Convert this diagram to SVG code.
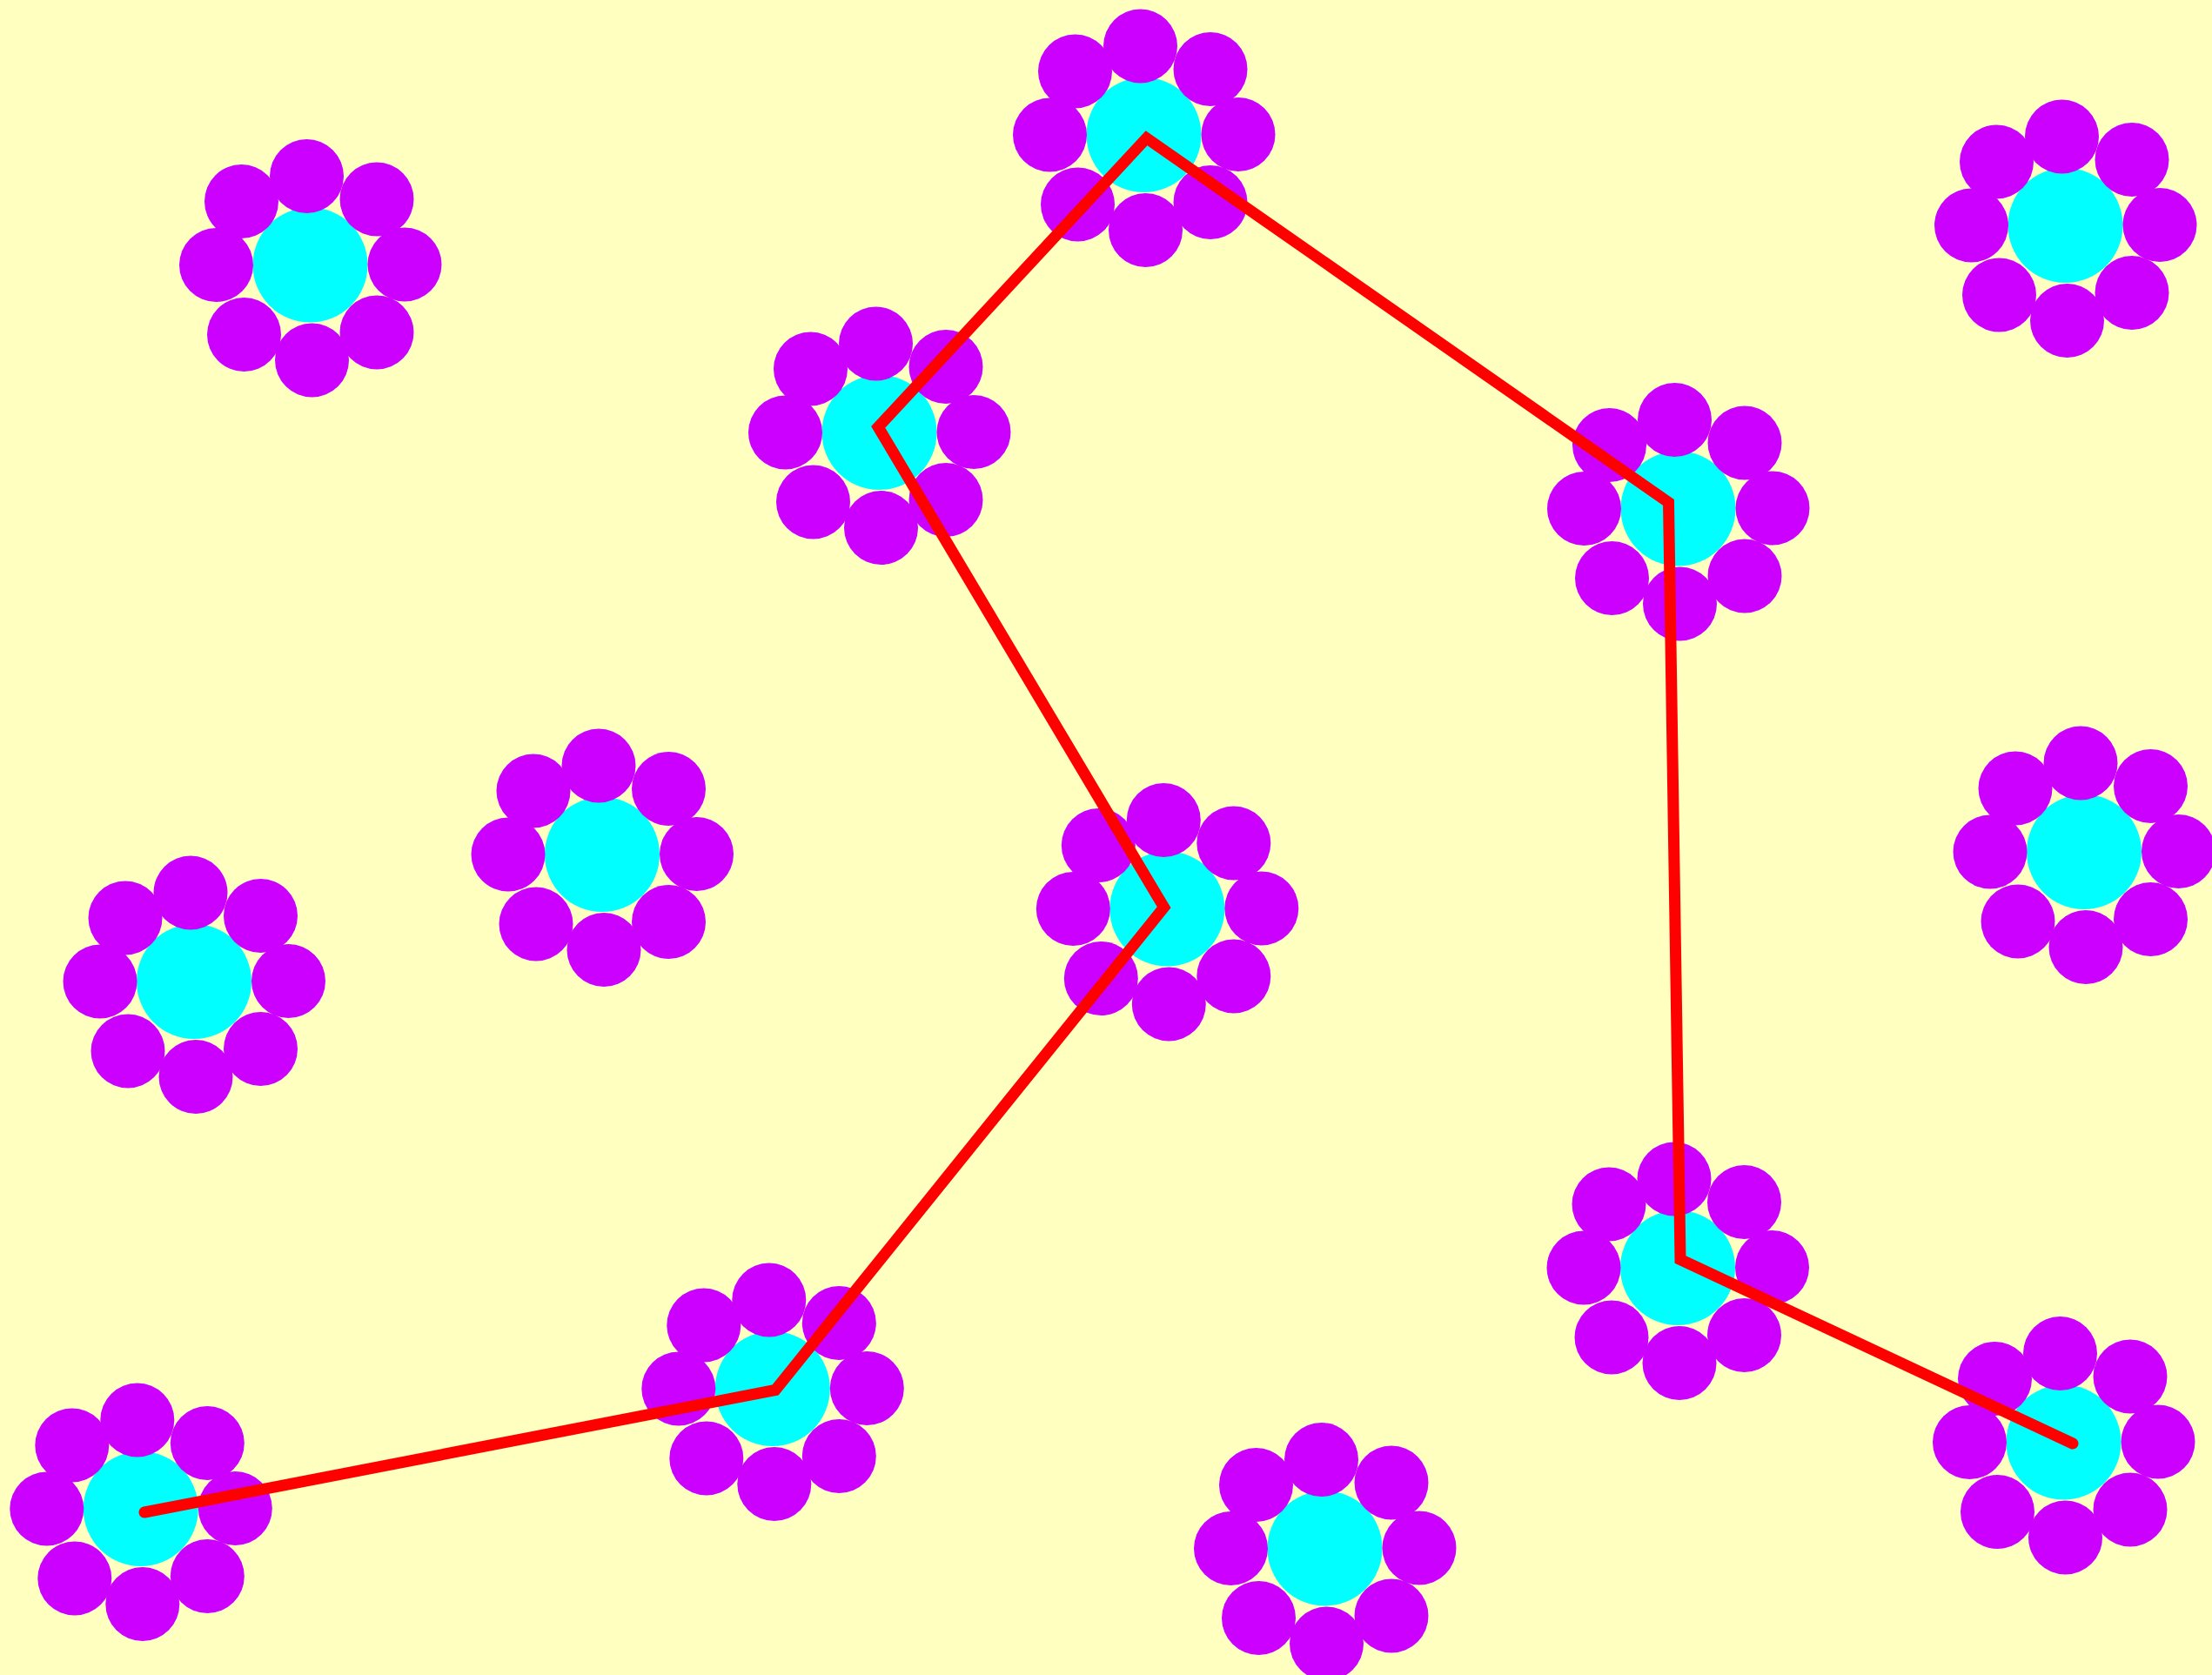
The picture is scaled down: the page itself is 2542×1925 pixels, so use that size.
<svg xmlns="http://www.w3.org/2000/svg" xmlns:xlink="http://www.w3.org/1999/xlink" width="2542" height="1925" viewBox="0 0 2542 1925">
  <style>
    .core { fill: #00FFFF; }
    .petal { fill: #CC00FF; }
    .path { fill: none; stroke: #FF0000; stroke-width: 13; stroke-linejoin: miter; stroke-linecap: round; stroke-miterlimit: 10; }
  </style>
  <defs>
    <g id="flower">
      <circle class="core" cx="0" cy="0" r="66"/>
      <circle class="petal" cx="-4" cy="-102" r="42.5"/>
      <circle class="petal" cx="76.5" cy="-75.5" r="42.5"/>
      <circle class="petal" cx="108.5" cy="-0.5" r="42.5"/>
      <circle class="petal" cx="76.5" cy="77.5" r="42.5"/>
      <circle class="petal" cx="2" cy="109.5" r="42.5"/>
      <circle class="petal" cx="-76" cy="80" r="42.5"/>
      <circle class="petal" cx="-108" cy="0" r="42.5"/>
      <circle class="petal" cx="-79" cy="-73" r="42.5"/>
    </g>
  </defs>
  <rect x="0" y="0" width="2542" height="1925" fill="#FFFFC0"/>
  <g id="nodes">
    <g id="n1"><use href="#flower" xlink:href="#flower" x="356.5" y="304.5"/></g>
    <g id="n2"><use href="#flower" xlink:href="#flower" x="1314.5" y="155"/></g>
    <g id="n3"><use href="#flower" xlink:href="#flower" x="2373.5" y="259"/></g>
    <g id="n4"><use href="#flower" xlink:href="#flower" x="1010.5" y="497"/></g>
    <g id="n5"><use href="#flower" xlink:href="#flower" x="1928.5" y="584.5"/></g>
    <g id="n6"><use href="#flower" xlink:href="#flower" x="692" y="982"/></g>
    <g id="n7"><use href="#flower" xlink:href="#flower" x="2395" y="979"/></g>
    <g id="n8"><use href="#flower" xlink:href="#flower" x="223" y="1128"/></g>
    <g id="n9"><use href="#flower" xlink:href="#flower" x="1341.3" y="1044.5"/></g>
    <g id="n10"><use href="#flower" xlink:href="#flower" x="1928" y="1457"/></g>
    <g id="n11"><use href="#flower" xlink:href="#flower" x="887.8" y="1596"/></g>
    <g id="n12"><use href="#flower" xlink:href="#flower" x="2371.5" y="1657.5"/></g>
    <g id="n13"><use href="#flower" xlink:href="#flower" x="161.8" y="1734"/></g>
    <g id="n14"><use href="#flower" xlink:href="#flower" x="1522.5" y="1779.5"/></g>
  </g>
  <g id="connectors">
    <polyline class="path" points="166,1738 891,1597.5 1337.6,1042.8 1009.2,490.8 1317.6,158.7 1917.5,577.5 1931,1447.5 2382,1659"/>
  </g>
</svg>
